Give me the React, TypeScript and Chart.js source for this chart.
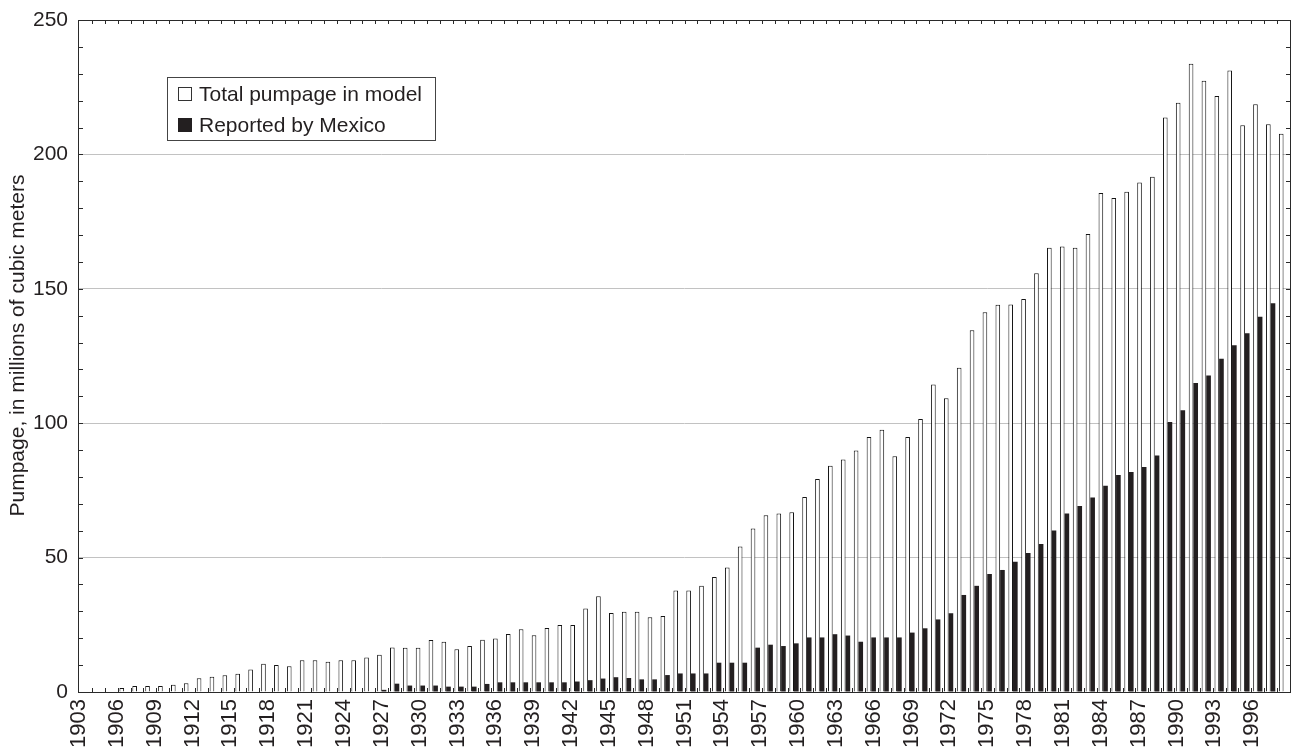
import React, { useEffect, useRef } from "react";
import { Chart, registerables } from "chart.js";

Chart.register(...registerables);

const FONT = "'Liberation Sans', Arial, Helvetica, sans-serif";
const TEXT = "#231f20";

// Bar slots (one per year of data)
const barYears = [
  "1904", "1905", "1906", "1907", "1908", "1909", "1910", "1911", "1912", "1913",
  "1914", "1915", "1916", "1917", "1918", "1919", "1920", "1921", "1922", "1923",
  "1924", "1925", "1926", "1927", "1928", "1929", "1930", "1931", "1932", "1933",
  "1934", "1935", "1936", "1937", "1938", "1939", "1940", "1941", "1942", "1943",
  "1944", "1945", "1946", "1947", "1948", "1949", "1950", "1951", "1952", "1953",
  "1954", "1955", "1956", "1957", "1958", "1959", "1960", "1961", "1962", "1963",
  "1964", "1965", "1966", "1967", "1968", "1969", "1970", "1971", "1972", "1973",
  "1974", "1975", "1976", "1977", "1978", "1979", "1980", "1981", "1982", "1983",
  "1984", "1985", "1986", "1987", "1988", "1989", "1990", "1991", "1992", "1993",
  "1994", "1995", "1996", "1997",
];

// Year labels printed under the axis (every third one shown)
const axisYears = [
  "1903", "1904", "1905", "1906", "1907", "1908", "1909", "1910", "1911", "1912",
  "1913", "1914", "1915", "1916", "1917", "1918", "1919", "1920", "1921", "1922",
  "1923", "1924", "1925", "1926", "1927", "1928", "1929", "1930", "1931", "1932",
  "1933", "1934", "1935", "1936", "1937", "1938", "1939", "1940", "1941", "1942",
  "1943", "1944", "1945", "1946", "1947", "1948", "1949", "1950", "1951", "1952",
  "1953", "1954", "1955", "1956", "1957", "1958", "1959", "1960", "1961", "1962",
  "1963", "1964", "1965", "1966", "1967", "1968", "1969", "1970", "1971", "1972",
  "1973", "1974", "1975", "1976", "1977", "1978", "1979", "1980", "1981", "1982",
  "1983", "1984", "1985", "1986", "1987", "1988", "1989", "1990", "1991", "1992",
  "1993", "1994", "1995", "1996", "1997", "1998",
];

const totalPumpage = [
  null, null, null, 1.5, 2.2, 2.2, 2.2, 2.7, 3.3, 5.1,
  5.7, 6.2, 6.8, 8.4, 10.5, 10.0, 9.6, 11.8, 11.8, 11.3,
  11.8, 11.8, 12.8, 13.9, 16.6, 16.5, 16.5, 19.3, 18.7, 15.9,
  17.1, 19.4, 19.9, 21.6, 23.3, 21.1, 23.8, 24.9, 24.9, 31.1,
  35.6, 29.4, 29.9, 29.9, 27.8, 28.3, 37.8, 37.8, 39.5, 42.8,
  46.3, 54.1, 60.8, 65.8, 66.4, 66.9, 72.5, 79.2, 84.2, 86.5,
  89.8, 94.9, 97.6, 87.7, 94.9, 101.6, 114.4, 109.3, 120.6, 134.6,
  141.3, 144.1, 144.2, 146.2, 155.8, 165.3, 165.7, 165.3, 170.4, 185.6,
  183.8, 186.1, 189.5, 191.7, 213.7, 219.2, 233.7, 227.4, 221.7, 231.2,
  210.8, 218.7, 211.2, 207.7,
];

const mexicoReported = [
  null, null, null, null, null, null, null, null, null, null,
  null, null, null, null, null, null, null, null, null, null,
  null, null, null, 0.8, 3.1, 2.4, 2.4, 2.4, 2.0, 2.0,
  2.0, 3.0, 3.6, 3.6, 3.6, 3.6, 3.6, 3.6, 3.9, 4.4,
  5.0, 5.5, 5.2, 4.7, 4.7, 6.3, 6.9, 6.9, 6.9, 10.9,
  10.9, 10.9, 16.5, 17.6, 17.1, 18.1, 20.3, 20.3, 21.5, 21.0,
  18.7, 20.3, 20.3, 20.3, 22.1, 23.7, 27.0, 29.3, 36.1, 39.5,
  43.9, 45.4, 48.5, 51.7, 55.1, 60.1, 66.4, 69.2, 72.4, 76.7,
  80.7, 81.8, 83.7, 88.0, 100.4, 104.8, 115.0, 117.7, 124.0, 129.0,
  133.5, 139.6, 144.6, null,
];

const seriesNames = ["Total pumpage in model", "Reported by Mexico"];
const yTitle = "Pumpage, in millions of cubic meters";
const yMax = 250;
const yMinorStep = 10;
const yMajorStep = 50;
const yearLabelEvery = 3;

const framePlugin = {
  id: "frameTicks",
  afterDatasetsDraw(chart: any) {
    const { ctx, chartArea } = chart;
    const { left, right, top, bottom } = chartArea;
    const xs = chart.scales.x;
    const ys = chart.scales.y;
    ctx.save();
    ctx.strokeStyle = "#2a2a2a";
    ctx.lineWidth = 1;
    ctx.beginPath();
    const n = xs.getLabels().length;
    const half = (xs.getPixelForValue(1) - xs.getPixelForValue(0)) / 2;
    for (let k = 1; k < n; k++) {
      const px = Math.round(xs.getPixelForValue(k) - half) + 0.5;
      ctx.moveTo(px, top);
      ctx.lineTo(px, top + 4);
      ctx.moveTo(px, bottom);
      ctx.lineTo(px, bottom - 4);
    }
    for (const t of ys.ticks) {
      if (t.value <= 0 || t.value >= yMax) continue;
      const py = Math.round(ys.getPixelForValue(t.value)) + 0.5;
      ctx.moveTo(left, py);
      ctx.lineTo(left + 4, py);
      ctx.moveTo(right, py);
      ctx.lineTo(right - 4, py);
    }
    ctx.stroke();
    ctx.strokeRect(Math.round(left) - 0.5, Math.round(top) + 0.5, Math.round(right - left) + 1, Math.round(bottom - top));
    ctx.restore();
  },
  afterDraw(chart: any) {
    const { ctx, chartArea } = chart;
    const { left, top, bottom } = chartArea;
    ctx.save();
    // y axis title
    ctx.fillStyle = TEXT;
    ctx.font = `21px ${FONT}`;
    ctx.textAlign = "center";
    ctx.textBaseline = "middle";
    ctx.translate(18, (top + bottom) / 2 - 10.5);
    ctx.rotate(-Math.PI / 2);
    ctx.fillText(yTitle, 0, 0);
    ctx.restore();

    // legend box
    ctx.save();
    const bx = Math.round(left + 88) + 0.5;
    const by = Math.round(top + 57) + 0.5;
    const bw = 268;
    const bh = 63;
    ctx.fillStyle = "#ffffff";
    ctx.fillRect(bx, by, bw, bh);
    ctx.strokeStyle = "#444";
    ctx.lineWidth = 1;
    ctx.strokeRect(bx, by, bw, bh);
    ctx.font = `21px ${FONT}`;
    ctx.textAlign = "left";
    ctx.textBaseline = "alphabetic";
    chart.data.datasets.forEach((ds: any, i: number) => {
      const sy = by + 10 + i * 31;
      if (i === 0) {
        ctx.fillStyle = "#fff";
        ctx.fillRect(bx + 11, sy, 13, 13);
        ctx.strokeStyle = "#333";
        ctx.strokeRect(bx + 11, sy, 13, 13);
      } else {
        ctx.fillStyle = ds.backgroundColor;
        ctx.fillRect(bx + 10.5, sy - 0.5, 14, 14);
      }
      ctx.fillStyle = TEXT;
      ctx.fillText(ds.label, bx + 31.5, sy + 13.5);
    });
    ctx.restore();
  },
};

export default function App() {
  const ref = useRef<HTMLCanvasElement>(null);
  useEffect(() => {
    const canvas = ref.current;
    if (!canvas) return;
    const chart = new Chart(canvas, {
      type: "bar",
      data: {
        labels: barYears,
        datasets: [
          {
            label: seriesNames[0],
            data: totalPumpage,
            backgroundColor: "#ffffff",
            borderColor: "#141414",
            borderWidth: 1,
            borderSkipped: "start",
            categoryPercentage: 0.72,
            barPercentage: 1,
          },
          {
            label: seriesNames[1],
            data: mexicoReported,
            backgroundColor: "#231f20",
            borderWidth: 0,
            categoryPercentage: 0.72,
            barPercentage: 1,
          },
        ],
      } as any,
      options: {
        responsive: false,
        animation: false,
        devicePixelRatio: 1,
        layout: { padding: { top: 20, right: 5, left: 0, bottom: 0 } },
        plugins: { legend: { display: false }, tooltip: { enabled: false } },
        scales: {
          x: {
            type: "category",
            display: false,
            offset: true,
            grid: { display: false },
          },
          xYears: {
            type: "category",
            labels: axisYears,
            position: "bottom",
            offset: true,
            grid: { display: false, drawTicks: false },
            border: { display: false },
            ticks: {
              autoSkip: false,
              minRotation: 90,
              maxRotation: 90,
              padding: 7,
              labelOffset: -6.3,
              color: TEXT,
              font: { size: 22, family: FONT },
              callback: (_v: any, i: number) => (i % yearLabelEvery === 0 ? axisYears[i] : ""),
            },
            afterFit: (s: any) => {
              s.height = 62;
              s.paddingLeft = 0;
              s.paddingRight = 0;
            },
          },
          y: {
            min: 0,
            max: yMax,
            border: { display: false },
            grid: {
              drawTicks: false,
              lineWidth: 1,
              color: (c: any) => {
                const v = c.tick ? c.tick.value : 0;
                return v % yMajorStep === 0 && v > 0 && v < yMax ? "#c2c2c2" : "rgba(0,0,0,0)";
              },
            },
            ticks: {
              stepSize: yMinorStep,
              maxTicksLimit: 40,
              autoSkip: false,
              padding: 11,
              color: TEXT,
              font: { size: 21, family: FONT },
              callback: (v: any) => (Number(v) % yMajorStep === 0 ? String(v) : ""),
            },
            afterFit: (s: any) => {
              s.width = 79;
              s.paddingTop = 0;
              s.paddingBottom = 0;
            },
          },
        } as any,
      },
      plugins: [framePlugin],
    });
    return () => chart.destroy();
  }, []);

  return (
    <div style={{ position: "fixed", left: 0, top: 0, width: 1295, height: 754, background: "#fff" }}>
      <canvas ref={ref} width={1295} height={754} style={{ display: "block" }} />
    </div>
  );
}
